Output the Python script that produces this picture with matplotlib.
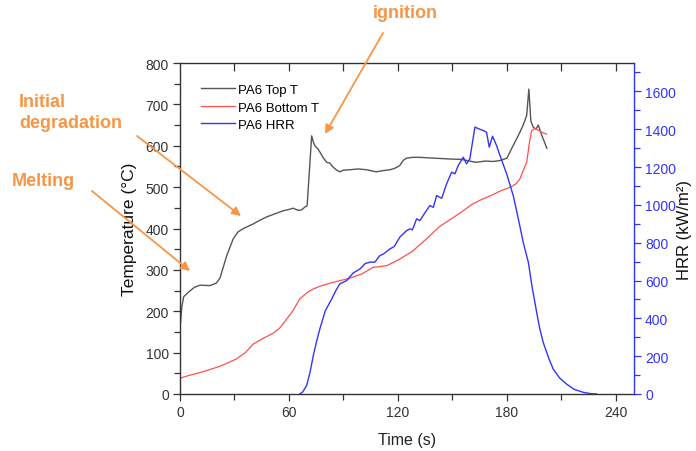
import numpy as np
import matplotlib
matplotlib.use("Agg")
import matplotlib.pyplot as plt
from matplotlib.ticker import MultipleLocator

plt.rcParams['font.family'] = ['Liberation Sans', 'DejaVu Sans']

# ---- data ----
top_t = [0, 1, 2, 4.6, 8, 11, 16.5, 20, 22, 25.7, 29.3, 32, 34.9, 40.3, 44, 47.7, 52, 56.9,
         60, 62.3, 65, 67, 68.8, 70, 72.5, 73.5, 74.3, 76, 77, 79, 80.8, 82.5, 84.4, 86,
         88, 90, 93.6, 98, 102.8, 108, 112, 115.6, 118, 121, 123, 124.8, 128, 132, 140,
         148.6, 155, 163, 168, 172.3, 176, 180, 183.4, 186, 188.8, 190.9, 192.1, 193.2,
         194.5, 196, 197.3, 199, 202]
top_v = [160, 210, 235, 246, 258, 263, 262, 268, 280, 334, 375, 392, 400, 411, 420, 428, 435, 443,
         446, 449, 444, 445, 452, 455, 624, 608, 600, 592, 585, 570, 560, 558, 548, 542,
         537, 541, 542, 544, 542, 537, 540, 542, 545, 552, 565, 570, 572, 572, 570,
         568, 567, 560, 563, 562, 564, 570, 600, 622, 648, 673, 737, 660,
         645, 640, 650, 628, 594]

bot_t = [0, 5, 12.8, 22, 31.2, 36, 40.4, 46, 51.4, 55, 58.7, 62, 66, 70, 73.4, 78, 84.4, 93.6,
         100, 106.4, 113.8, 121, 128, 137, 143, 150, 155, 161, 166, 171, 176, 182,
         185, 187.2, 189, 190.9, 192.5, 193.6, 195.4, 197, 199, 201.8]
bot_v = [38, 45, 54, 67, 85, 100, 121, 135, 147, 160, 181, 200, 230, 245, 254, 262, 270, 280,
         290, 306, 310, 326, 345, 380, 405, 425, 440, 459, 470, 479, 490, 500,
         508, 520, 540, 560, 610, 636, 642, 638, 633, 628]

hrr_t = [66, 67.5, 69.7, 71.5, 73.4, 75, 77, 80, 83.5, 86, 88, 91.8, 95.4, 99.1, 102, 104.6,
         107.3, 110.1, 112, 115.6, 118, 121.1, 124.8, 126.6, 128, 130.3, 132.1, 135,
         137.6, 139.5, 141.3, 144.1, 146.8, 149.6, 151.4, 153.2, 156, 157.8, 159.6,
         162.4, 165, 167, 168.8, 170.3, 172.1, 174.3, 176.2, 180, 183.5, 186, 189,
         191.8, 194, 196.4, 198, 200, 203, 205.5, 209, 212.8, 217, 222, 226, 229.4]
hrr_v = [0, 10, 44, 110, 203, 270, 344, 440, 502, 550, 582, 600, 640, 661, 690, 697,
         697, 732, 740, 767, 780, 830, 864, 873, 868, 926, 917, 960,
         996, 987, 1049, 1035, 1111, 1173, 1164, 1208, 1252, 1217, 1243,
         1411, 1400, 1393, 1384, 1305, 1363, 1314, 1261, 1160, 1049, 940, 802,
         697, 560, 432, 350, 273, 190, 132, 85, 53, 25, 9, 2, 0]

series_labels = ["PA6 Top T", "PA6 Bottom T", "PA6 HRR"]
x_ticks = [0, 60, 120, 180, 240]

# ---- figure ----
orange = "#F79646"
blue = "#3333FF"

fig = plt.figure(figsize=(6.96, 4.52), dpi=100)
ax = fig.add_axes([180/696, 1-395/452, (634-180)/696, (395-64)/452])
ax2 = ax.twinx()

l1, = ax.plot(top_t, top_v, color="#555555", lw=1.0, label=series_labels[0])
l2, = ax.plot(bot_t, bot_v, color="#FF5050", lw=0.9, label=series_labels[1])
l3, = ax2.plot(hrr_t, hrr_v, color=blue, lw=1.0, label=series_labels[2])

ax.set_xlim(0, 250)
ax.set_ylim(0, 800)
ax2.set_ylim(0, 1750)

ax.set_xticks(x_ticks)
ax.xaxis.set_minor_locator(MultipleLocator(30))
ax.yaxis.set_major_locator(MultipleLocator(100))
ax.yaxis.set_minor_locator(MultipleLocator(50))
ax2.yaxis.set_major_locator(MultipleLocator(200))
ax2.yaxis.set_minor_locator(MultipleLocator(100))

tick_col = "#333333"
ax.tick_params(axis='both', which='major', length=5, width=0.9, labelsize=10, colors=tick_col,
               direction='out', pad=3)
ax.tick_params(axis='both', which='minor', length=4, width=0.9, colors=tick_col, direction='out')
ax.tick_params(axis='x', which='both', top=False)
ax2.tick_params(axis='y', which='major', length=5, width=0.9, labelsize=10, colors=blue,
                direction='out', pad=3)
ax2.tick_params(axis='y', which='minor', length=4, width=0.9, colors=blue, direction='out')

# top spine ticks (inward, every 30 s)
secx = ax.secondary_xaxis('top')
secx.set_xticks(np.arange(30, 250, 30))
secx.tick_params(axis='x', direction='in', length=6, width=0.9, colors=tick_col, labeltop=False)
secx.spines['top'].set_visible(False)

for sp in ['left', 'bottom', 'top']:
    ax.spines[sp].set_color(tick_col)
    ax.spines[sp].set_linewidth(1.0)
ax.spines['right'].set_visible(False)
ax2.spines['right'].set_color(blue)
ax2.spines['right'].set_linewidth(1.0)
for sp in ['left', 'bottom', 'top']:
    ax2.spines[sp].set_visible(False)

ax.set_xlabel("Time (s)", fontsize=11.5, color="#222222", labelpad=9)
ax.set_ylabel("Temperature (°C)", fontsize=12.5, color="#111111", labelpad=6)
ax2.set_ylabel("HRR (kW/m²)", fontsize=12, color="#111111", labelpad=1)

leg = ax.legend(handles=[l1, l2, l3], loc='upper left', bbox_to_anchor=(0.025, 0.965),
                frameon=False, fontsize=9.5, handlelength=2.6, handletextpad=0.25,
                labelspacing=0.4, borderaxespad=0.3)

# annotations (figure pixel coordinates)
def fx(px):
    return px / 696
def fy(py):
    return 1 - py / 452

fig.text(fx(405), fy(14), "ignition", color=orange, fontsize=13, fontweight='bold',
         ha='center', va='center')
fig.text(fx(19), fy(113), "Initial\ndegradation", color=orange, fontsize=13, fontweight='bold',
         ha='left', va='center', linespacing=1.3)
fig.text(fx(12), fy(182), "Melting", color=orange, fontsize=13, fontweight='bold',
         ha='left', va='center')

arrow = dict(arrowstyle='-|>', color=orange, lw=1.3, mutation_scale=13, shrinkA=0, shrinkB=0)
fig.add_artist(matplotlib.patches.FancyArrowPatch((fx(383), fy(34)), (fx(325), fy(135)),
               transform=fig.transFigure, **arrow))
fig.add_artist(matplotlib.patches.FancyArrowPatch((fx(137), fy(137)), (fx(241), fy(217)),
               transform=fig.transFigure, **arrow))
fig.add_artist(matplotlib.patches.FancyArrowPatch((fx(92), fy(192)), (fx(190), fy(272)),
               transform=fig.transFigure, **arrow))

fig.savefig("out.png", dpi=100)
